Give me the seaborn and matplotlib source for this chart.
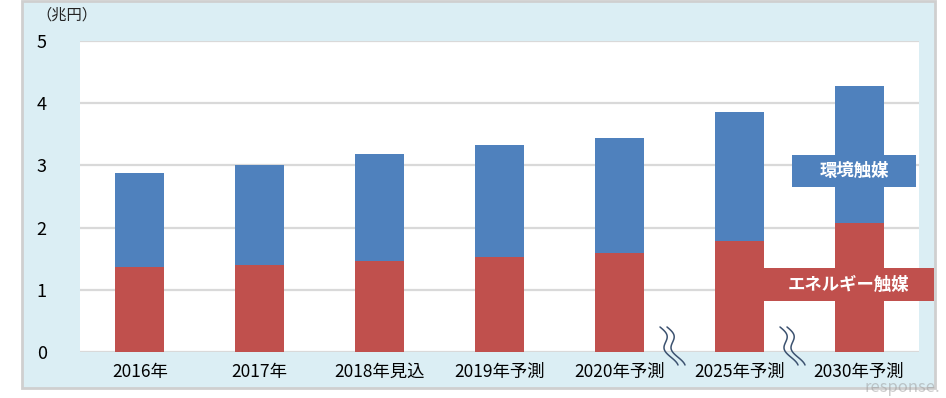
import matplotlib
matplotlib.use("Agg")
import matplotlib.pyplot as plt
import seaborn as sns
import pandas as pd
import numpy as np
from matplotlib.patches import Rectangle
from matplotlib.lines import Line2D

# ---- data ----
categories = ["2016年", "2017年", "2018年見込", "2019年予測", "2020年予測", "2025年予測", "2030年予測"]
energy_catalyst = [1.36, 1.40, 1.46, 1.52, 1.585, 1.79, 2.07]        # エネルギー触媒
environment_catalyst = [1.51, 1.60, 1.73, 1.80, 1.85, 2.07, 2.21]    # 環境触媒
y_ticks = [0, 1, 2, 3, 4, 5]
unit_label = "（兆円）"
series_names = ["環境触媒", "エネルギー触媒"]

df = pd.DataFrame({
    "category": categories,
    "energy": energy_catalyst,
    "total": [e + v for e, v in zip(energy_catalyst, environment_catalyst)],
})

BLUE = "#4f81bd"
RED = "#c0504d"
PANEL = "#dbeef4"
GRID = "#d9d9d9"

sns.set_theme(style="white")
plt.rcParams["font.family"] = ["Noto Sans CJK JP", "DejaVu Sans"]

W, H = 946, 398
fig = plt.figure(figsize=(W / 100, H / 100), dpi=100)
fig.patch.set_facecolor("white")


def fx(px):
    return px / W


def fy(py):
    return 1 - py / H


# outer light-blue panel (behind the axes)
fig.patches.append(Rectangle((fx(22), fy(388)), fx(935) - fx(22), fy(1) - fy(388),
                             transform=fig.transFigure, facecolor=PANEL,
                             edgecolor="#cfcfcf", linewidth=2, zorder=-10))

ax = fig.add_axes([fx(80), fy(352), fx(919) - fx(80), fy(41) - fy(352)])
ax.set_zorder(1)
ax.set_facecolor("white")

sns.barplot(data=df, x="category", y="total", color=BLUE, width=0.41,
            saturation=1, ax=ax, zorder=3, linewidth=0)
sns.barplot(data=df, x="category", y="energy", color=RED, width=0.41,
            saturation=1, ax=ax, zorder=3, linewidth=0)

ax.set_ylim(0, 5)
ax.set_xlim(-0.5, len(categories) - 0.5)
ax.set_yticks(y_ticks)
ax.set_yticklabels([str(t) for t in y_ticks])
ax.set_xlabel("")
ax.set_ylabel("")
ax.yaxis.grid(True, color=GRID, linewidth=1.6, zorder=0)
ax.set_axisbelow(True)
for s in ["top", "right", "left", "bottom"]:
    ax.spines[s].set_visible(False)
ax.axhline(0, color=GRID, linewidth=1.8, zorder=2)
ax.tick_params(axis="y", length=0, pad=24, labelsize=13, labelcolor="black")
ax.tick_params(axis="x", length=0, pad=8, labelsize=12.5, labelcolor="black")

fig.text(fx(36), fy(15), unit_label, fontsize=11, ha="left", va="center", color="#222222", zorder=5)

# series label boxes
fig.patches.append(Rectangle((fx(792), fy(187)), fx(916) - fx(792), fy(155) - fy(187),
                             transform=fig.transFigure, facecolor=BLUE, edgecolor="none", zorder=5))
fig.text((fx(792) + fx(916)) / 2, (fy(155) + fy(187)) / 2, series_names[0], color="white",
         fontsize=12.5, fontweight="bold", ha="center", va="center", zorder=6)
fig.patches.append(Rectangle((fx(763), fy(301)), fx(934) - fx(763), fy(268) - fy(301),
                             transform=fig.transFigure, facecolor=RED, edgecolor="none", zorder=5))
fig.text((fx(763) + fx(934)) / 2, (fy(268) + fy(301)) / 2, series_names[1], color="white",
         fontsize=12.5, fontweight="bold", ha="center", va="center", zorder=6)

# axis break squiggles
t = np.linspace(0, 1, 60)
for x0 in [660, 780]:
    for off in [0, 7]:
        xs = x0 + off + 14 * t + 4 * np.sin(2 * np.pi * 1.25 * t)
        ys = 327 + 38 * t
        fig.add_artist(Line2D(fx(xs), fy(ys), transform=fig.transFigure,
                              color="#3c5270", linewidth=1.1, zorder=7))

# watermark
fig.text(fx(940), fy(387), "response.", fontsize=12, color="#9a9a9a", alpha=0.5,
         ha="right", va="center", style="italic", zorder=8)

fig.savefig("out.png", dpi=100)
